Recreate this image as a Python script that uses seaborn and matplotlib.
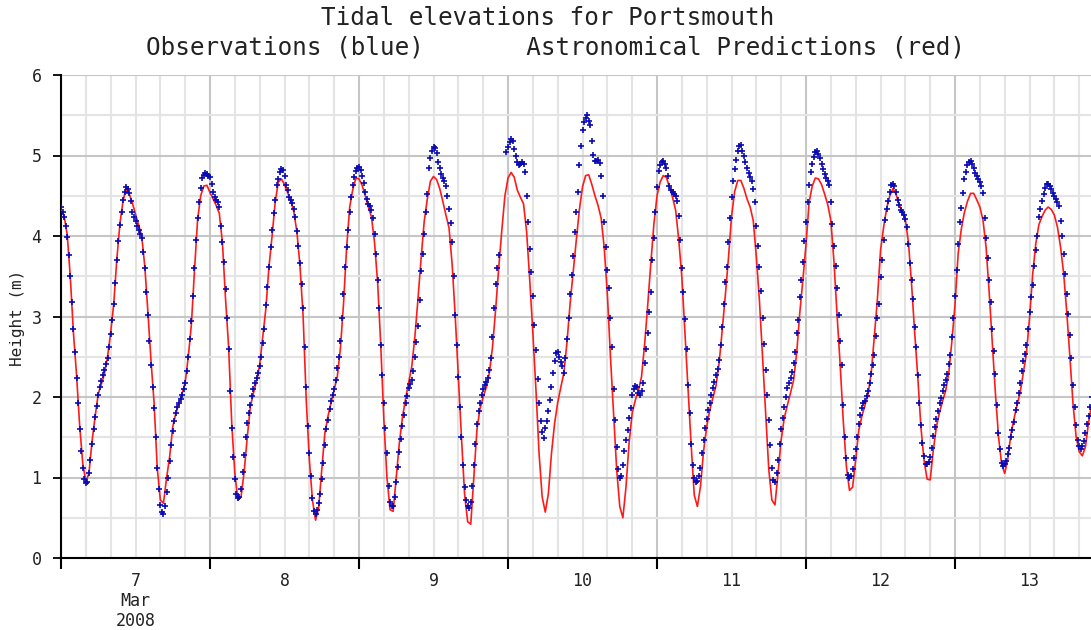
import numpy as np
import pandas as pd
import matplotlib
matplotlib.use("Agg")
import matplotlib.pyplot as plt
import seaborn as sns
from matplotlib.ticker import MultipleLocator, NullFormatter

sns.set_theme(style="white")
plt.rcParams["font.family"] = ["DejaVu Sans Mono", "DejaVu Sans"]

# Observed heights (m), one reading every 15 min from 7 Mar 2008 00:00
obs_mar07 = [4.36, 4.30, 4.23, 4.13, 3.99, 3.77, 3.50, 3.18, 2.85, 2.56, 2.24, 1.92, 1.60, 1.33, 1.12, 0.98,
             0.93, 0.95, 1.05, 1.22, 1.42, 1.60, 1.75, 1.89, 2.02, 2.12, 2.20, 2.27, 2.34, 2.41, 2.49, 2.62,
             2.78, 2.96, 3.16, 3.42, 3.70, 3.94, 4.14, 4.30, 4.45, 4.55, 4.61, 4.58, 4.54, 4.44, 4.30, 4.23,
             4.19, 4.13, 4.08, 4.03, 3.97, 3.80, 3.60, 3.31, 3.02, 2.70, 2.40, 2.12, 1.86, 1.50, 1.12, 0.86,
             0.66, 0.57, 0.55, 0.64, 0.82, 1.00, 1.20, 1.40, 1.58, 1.70, 1.80, 1.87, 1.93, 1.97, 2.02, 2.10,
             2.18, 2.32, 2.50, 2.72, 2.95, 3.25, 3.60, 3.95, 4.22, 4.42, 4.60, 4.72, 4.76, 4.78, 4.77, 4.74]
obs_mar08 = [4.73, 4.64, 4.55, 4.48, 4.45, 4.42, 4.36, 4.12, 3.92, 3.68, 3.34, 2.98, 2.60, 2.08, 1.62, 1.25,
             0.98, 0.80, 0.74, 0.76, 0.86, 1.07, 1.28, 1.50, 1.68, 1.80, 1.90, 2.01, 2.10, 2.17, 2.23, 2.30,
             2.38, 2.50, 2.67, 2.85, 3.14, 3.37, 3.62, 3.86, 4.08, 4.28, 4.45, 4.63, 4.71, 4.79, 4.83, 4.82,
             4.75, 4.63, 4.57, 4.49, 4.45, 4.41, 4.33, 4.23, 4.06, 3.88, 3.66, 3.40, 3.10, 2.62, 2.13, 1.64,
             1.30, 1.02, 0.74, 0.58, 0.55, 0.60, 0.68, 0.80, 0.98, 1.18, 1.40, 1.60, 1.72, 1.85, 1.95, 2.03,
             2.10, 2.21, 2.36, 2.50, 2.70, 2.98, 3.28, 3.62, 3.86, 4.08, 4.30, 4.48, 4.63, 4.73, 4.81, 4.85]
obs_mar09 = [4.86, 4.82, 4.75, 4.66, 4.55, 4.46, 4.40, 4.37, 4.32, 4.22, 4.03, 3.78, 3.45, 3.10, 2.65, 2.27,
             1.93, 1.62, 1.30, 0.90, 0.70, 0.64, 0.65, 0.76, 0.95, 1.13, 1.32, 1.48, 1.64, 1.78, 1.92, 2.01,
             2.11, 2.16, 2.21, 2.32, 2.50, 2.68, 2.88, 3.20, 3.57, 3.78, 4.02, 4.30, 4.52, 4.85, 4.97, 5.05,
             5.10, 5.09, 5.03, 4.92, 4.84, 4.77, 4.72, 4.68, 4.62, 4.50, 4.34, 4.16, 3.92, 3.50, 3.02, 2.65,
             2.25, 1.88, 1.50, 1.15, 0.88, 0.72, 0.64, 0.62, 0.70, 0.90, 1.15, 1.41, 1.66, 1.82, 1.92, 2.02,
             2.10, 2.15, 2.19, 2.23, 2.33, 2.48, 2.75, 3.10, 3.40, 3.60, 3.76, np.nan, np.nan, np.nan, np.nan, 5.04]
obs_mar10 = [5.10, 5.17, 5.21, 5.18, 5.08, 5.00, 4.92, 4.88, 4.89, 4.92, 4.90, 4.80, 4.50, 4.18, 3.84, 3.55,
             3.25, 2.90, 2.58, 2.22, 1.92, 1.70, 1.56, 1.49, 1.62, 1.70, 1.82, 1.96, 2.12, 2.30, 2.45, 2.55,
             2.56, 2.50, 2.44, 2.38, 2.30, 2.48, 2.72, 2.98, 3.28, 3.52, 3.75, 4.05, 4.30, 4.55, 4.88, 5.12,
             5.32, 5.41, 5.46, 5.50, 5.43, 5.38, 5.18, 5.01, 4.93, 4.93, 4.94, 4.91, 4.75, 4.50, 4.18, 3.86,
             3.58, 3.35, 2.98, 2.62, 2.10, 1.72, 1.38, 1.10, 0.99, 1.02, 1.16, 1.33, 1.47, 1.59, 1.74, 1.86,
             2.02, 2.10, 2.14, 2.12, 2.05, 2.03, 2.07, 2.18, 2.42, 2.60, 2.79, 3.06, 3.31, 3.70, 3.98, 4.30]
obs_mar11 = [4.61, 4.81, 4.88, 4.92, 4.93, 4.90, 4.84, 4.74, 4.62, 4.57, 4.55, 4.52, 4.50, 4.44, 4.25, 3.95,
             3.60, 3.30, 2.97, 2.60, 2.15, 1.80, 1.42, 1.15, 1.00, 0.95, 0.96, 1.02, 1.12, 1.30, 1.47, 1.62,
             1.73, 1.84, 1.92, 2.02, 2.11, 2.19, 2.27, 2.35, 2.46, 2.65, 2.87, 3.16, 3.43, 3.62, 3.93, 4.22,
             4.48, 4.68, 4.83, 4.95, 5.05, 5.12, 5.13, 5.06, 4.99, 4.92, 4.84, 4.78, 4.73, 4.68, 4.59, 4.42,
             4.13, 3.87, 3.62, 3.32, 2.98, 2.66, 2.33, 2.03, 1.72, 1.40, 1.12, 0.97, 0.95, 1.05, 1.22, 1.42,
             1.60, 1.74, 1.88, 2.00, 2.11, 2.18, 2.24, 2.31, 2.42, 2.56, 2.79, 2.96, 3.24, 3.45, 3.68, 3.94]
obs_mar12 = [4.17, 4.42, 4.63, 4.80, 4.90, 4.98, 5.04, 5.06, 5.02, 4.97, 4.90, 4.83, 4.77, 4.72, 4.68, 4.63,
             4.42, 4.15, 3.88, 3.63, 3.35, 3.02, 2.70, 2.40, 1.90, 1.50, 1.24, 1.03, 0.99, 1.02, 1.10, 1.24,
             1.36, 1.50, 1.67, 1.78, 1.86, 1.92, 1.95, 2.01, 2.08, 2.17, 2.28, 2.40, 2.52, 2.76, 2.98, 3.16,
             3.49, 3.70, 3.95, 4.20, 4.33, 4.44, 4.55, 4.63, 4.65, 4.62, 4.55, 4.45, 4.38, 4.32, 4.30, 4.26,
             4.21, 4.11, 3.90, 3.66, 3.45, 3.22, 2.87, 2.62, 2.27, 1.92, 1.65, 1.43, 1.27, 1.17, 1.17, 1.19,
             1.25, 1.37, 1.51, 1.63, 1.73, 1.83, 1.92, 1.99, 2.07, 2.15, 2.21, 2.29, 2.41, 2.52, 2.74, 2.98]
obs_mar13 = [3.26, 3.58, 3.90, 4.17, 4.35, 4.53, 4.71, 4.80, 4.88, 4.92, 4.93, 4.90, 4.85, 4.78, 4.74, 4.71,
             4.67, 4.62, 4.54, 4.22, 3.98, 3.73, 3.45, 3.18, 2.85, 2.57, 2.28, 1.90, 1.55, 1.35, 1.18, 1.14,
             1.17, 1.21, 1.29, 1.37, 1.50, 1.59, 1.69, 1.84, 1.92, 2.05, 2.18, 2.32, 2.45, 2.54, 2.64, 2.84,
             3.06, 3.24, 3.39, 3.63, 3.82, 4.00, 4.24, 4.34, 4.43, 4.52, 4.60, 4.64, 4.65, 4.62, 4.58, 4.54,
             4.50, 4.46, 4.42, 4.37, 4.19, 4.00, 3.78, 3.53, 3.28, 3.03, 2.77, 2.48, 2.15, 1.88, 1.65, 1.46,
             1.39, 1.36, 1.39, 1.45, 1.55, 1.67, 1.77, 1.87, 2.00]

# Astronomical predictions (m), every 30 min from 7 Mar 2008 00:00
pred_mar07 = [4.34, 4.25, 4.02, 3.49, 2.80, 2.28, 1.65, 1.18, 0.95, 1.05, 1.45, 1.76, 2.04, 2.16, 2.29, 2.50,
              2.80, 3.16, 3.72, 4.16, 4.44, 4.59, 4.52, 4.41, 4.27, 4.14, 4.00, 3.62, 3.05, 2.45, 1.92, 1.12,
              0.72, 0.68, 0.99, 1.26, 1.63, 1.80, 1.92, 2.04, 2.18, 2.50, 2.90, 3.57, 4.20, 4.50, 4.62, 4.63]
pred_mar08 = [4.54, 4.46, 4.38, 4.28, 3.92, 3.22, 2.62, 1.67, 1.05, 0.72, 0.76, 1.07, 1.50, 1.88, 2.05, 2.20,
              2.40, 2.75, 3.10, 3.62, 4.00, 4.42, 4.67, 4.71, 4.64, 4.54, 4.44, 4.30, 4.05, 3.62, 3.00, 1.96,
              1.22, 0.72, 0.47, 0.62, 1.10, 1.55, 1.76, 1.93, 2.09, 2.25, 2.60, 3.15, 3.85, 4.36, 4.58, 4.72]
pred_mar09 = [4.71, 4.63, 4.50, 4.36, 4.24, 3.92, 3.42, 2.65, 1.72, 1.00, 0.60, 0.58, 1.00, 1.43, 1.75, 1.98,
              2.18, 2.38, 2.75, 3.22, 3.72, 4.18, 4.46, 4.68, 4.74, 4.70, 4.59, 4.43, 4.26, 4.10, 3.65, 3.00,
              2.25, 1.50, 0.80, 0.45, 0.42, 1.01, 1.60, 1.86, 2.00, 2.12, 2.30, 2.62, 3.08, 3.60, 4.07, 4.50]
pred_mar10 = [4.72, 4.79, 4.73, 4.57, 4.48, 4.40, 4.05, 3.45, 2.80, 2.09, 1.30, 0.76, 0.57, 0.80, 1.30, 1.67,
              1.93, 2.12, 2.30, 2.68, 3.16, 3.56, 3.95, 4.33, 4.61, 4.75, 4.76, 4.64, 4.50, 4.38, 4.22, 3.85,
              3.28, 2.50, 1.80, 1.10, 0.64, 0.50, 0.88, 1.43, 1.80, 1.96, 2.08, 2.25, 2.65, 3.14, 3.66, 4.15]
pred_mar11 = [4.50, 4.67, 4.75, 4.73, 4.61, 4.48, 4.32, 3.95, 3.49, 2.80, 2.12, 1.40, 0.78, 0.64, 0.89, 1.33,
              1.63, 1.84, 1.99, 2.14, 2.42, 2.83, 3.26, 3.72, 4.24, 4.55, 4.69, 4.69, 4.59, 4.46, 4.36, 4.19,
              3.74, 3.19, 2.50, 1.80, 1.10, 0.72, 0.66, 1.07, 1.47, 1.74, 1.90, 2.05, 2.21, 2.55, 3.05, 3.46]
pred_mar12 = [3.90, 4.42, 4.62, 4.72, 4.71, 4.64, 4.52, 4.39, 4.19, 3.68, 3.02, 2.40, 1.70, 1.14, 0.84, 0.88,
              1.22, 1.59, 1.76, 1.90, 2.04, 2.30, 2.75, 3.22, 3.82, 4.11, 4.35, 4.50, 4.59, 4.52, 4.39, 4.30,
              4.20, 3.92, 3.40, 2.80, 2.25, 1.63, 1.22, 0.98, 0.97, 1.34, 1.63, 1.81, 1.95, 2.08, 2.30, 2.70]
pred_mar13 = [3.15, 3.78, 4.08, 4.29, 4.43, 4.53, 4.53, 4.45, 4.36, 4.20, 3.86, 3.30, 2.68, 2.05, 1.51, 1.17,
              1.05, 1.23, 1.54, 1.73, 1.90, 2.06, 2.30, 2.54, 2.98, 3.52, 3.90, 4.14, 4.24, 4.32, 4.36, 4.33,
              4.26, 4.11, 3.86, 3.53, 3.05, 2.50, 1.92, 1.51, 1.32, 1.27, 1.38, 1.68, 1.90]

day_labels = ["7\nMar\n2008", "8", "9", "10", "11", "12", "13"]

observed = obs_mar07 + obs_mar08 + obs_mar09 + obs_mar10 + obs_mar11 + obs_mar12 + obs_mar13
predicted = pred_mar07 + pred_mar08 + pred_mar09 + pred_mar10 + pred_mar11 + pred_mar12 + pred_mar13

obs_df = pd.DataFrame({"hours": np.arange(len(observed)) * 0.25, "height": observed})
pred_df = pd.DataFrame({"hours": np.arange(len(predicted)) * 0.5, "height": predicted})

fig = plt.figure(figsize=(10.91, 6.30), dpi=100)
ax = fig.add_axes([61 / 1091, 72 / 630, 1 - 61 / 1091, 483 / 630])

sns.lineplot(data=pred_df, x="hours", y="height", color="#ff1a1a", lw=1.2, ax=ax, zorder=3)
sns.scatterplot(data=obs_df, x="hours", y="height", marker="+", color="#0a0ab4",
                s=24, linewidth=1.2, ax=ax, zorder=4)

ax.set_xlim(0, 165.9)
ax.set_ylim(0, 6)
ax.xaxis.set_major_locator(MultipleLocator(24))
ax.xaxis.set_minor_locator(MultipleLocator(4))
ax.xaxis.set_major_formatter(NullFormatter())
ax.yaxis.set_major_locator(MultipleLocator(1))
ax.yaxis.set_minor_locator(MultipleLocator(0.5))

ax.grid(which="major", color="#c6c6c6", lw=1.5, zorder=0)
ax.grid(which="minor", color="#e4e4e4", lw=1.5, zorder=0)
ax.set_axisbelow(True)

for side in ["top", "right"]:
    ax.spines[side].set_visible(False)
for side in ["left", "bottom"]:
    ax.spines[side].set_color("black")
    ax.spines[side].set_linewidth(1.5)

ax.tick_params(axis="y", which="major", left=True, length=6, width=1.3, color="black",
               labelsize=12, pad=8, labelcolor="#222222")
ax.tick_params(axis="x", which="major", bottom=True, length=8, width=1.5, color="black")
ax.tick_params(which="minor", length=0)
ax.set_xlabel("")
ax.set_ylabel("")

for i, lab in enumerate(day_labels):
    ax.text(12 + 24 * i, -0.028, lab, transform=ax.get_xaxis_transform(),
            ha="center", va="top", fontsize=12, linespacing=1.15, color="#222222")

fig.text(18 / 1091, 0.495, "Height (m)", rotation=90, ha="center", va="center",
         fontsize=11.5, color="#222222")
fig.text(548 / 1091, 1 - 18 / 630, "Tidal elevations for Portsmouth",
         ha="center", va="center", fontsize=17.5, color="#222222")
fig.text(555 / 1091, 1 - 48 / 630, "Observations (blue)       Astronomical Predictions (red)",
         ha="center", va="center", fontsize=17.5, color="#222222")

fig.savefig("out.png", dpi=100)
